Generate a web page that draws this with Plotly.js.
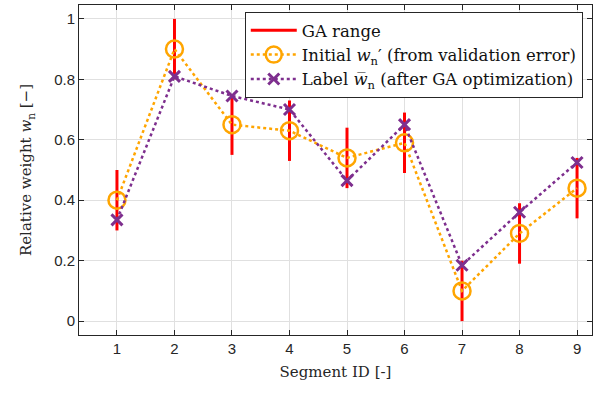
<!DOCTYPE html>
<html><head><meta charset="utf-8">
<script src="https://cdn.plot.ly/plotly-3.0.1.min.js"></script>
<style>html,body{margin:0;padding:0;background:#fff}#chart{width:604px;height:397px}</style>
</head><body><div id="chart"></div>
<script>
const segments = [1,2,3,4,5,6,7,8,9];
const initialWeights = [0.40,0.90,0.65,0.63,0.54,0.59,0.10,0.29,0.44];
const labelWeights = [0.335,0.81,0.745,0.70,0.465,0.65,0.185,0.36,0.525];
const gaLow = [0.30,0.80,0.55,0.53,0.44,0.49,0.00,0.19,0.34];
const gaHigh = [0.50,1.00,0.75,0.73,0.64,0.69,0.20,0.39,0.54];
const xTickLabels = ['1','2','3','4','5','6','7','8','9'];
const yTickVals = [0,0.2,0.4,0.6,0.8,1];
const yTickLabels = ['0','0.2','0.4','0.6','0.8','1'];

const rx = [], ry = [];
segments.forEach((s,i)=>{ rx.push(s,s,null); ry.push(gaLow[i],gaHigh[i],null); });

const serif = '"DejaVu Serif", "Liberation Serif", serif';
const sans = '"Liberation Sans", Arial, sans-serif';

const traces = [
 {x:rx, y:ry, mode:'lines', name:'GA range', line:{color:'#ff0000', width:3}, connectgaps:false},
 {x:segments, y:initialWeights, mode:'lines+markers', name:'Initial <i>w</i><sub>n</sub>′ (from validation error)',
  line:{color:'#ffa500', width:2.5, dash:'dot'},
  marker:{symbol:'circle-open', size:17, color:'#ffa500', line:{width:2.5, color:'#ffa500'}}},
 {x:segments, y:labelWeights, mode:'lines+markers', name:'Label <i>w̅</i><sub>n</sub> (after GA optimization)',
  line:{color:'#7e2f8e', width:2.5, dash:'dot'},
  marker:{symbol:'x-thin-open', size:11, color:'#7e2f8e', line:{width:3, color:'#7e2f8e'}}}
];

const axisCommon = {showline:true, linecolor:'#262626', linewidth:1, mirror:'allticks', ticks:'inside', ticklen:5,
  tickcolor:'#262626', gridcolor:'#e0e0e0', gridwidth:1, zeroline:false, tickfont:{family:sans, size:15, color:'#262626'}};

const layout = {
 width:604, height:397, margin:{l:79, r:12, t:5, b:62},
 paper_bgcolor:'#fff', plot_bgcolor:'#fff', showlegend:true,
 xaxis:Object.assign({}, axisCommon, {range:[0.34,9.26], tickvals:segments, ticktext:xTickLabels,
   title:{text:'Segment ID [-]', font:{family:serif, size:15, color:'#262626'}, standoff:10}}),
 yaxis:Object.assign({}, axisCommon, {range:[-0.046,1.046], tickvals:yTickVals, ticktext:yTickLabels,
   title:{text:'Relative weight <i>w</i><sub>n</sub> [−]', font:{family:serif, size:15, color:'#262626'}, standoff:18}}),
 legend:{x:0.982, y:0.979, xanchor:'right', yanchor:'top', bgcolor:'#fff', bordercolor:'#262626', borderwidth:1,
   font:{family:serif, size:16.5, color:'#111'}, itemwidth:46, tracegroupgap:0}
};
Plotly.newPlot('chart', traces, layout, {staticPlot:true});
</script></body></html>
